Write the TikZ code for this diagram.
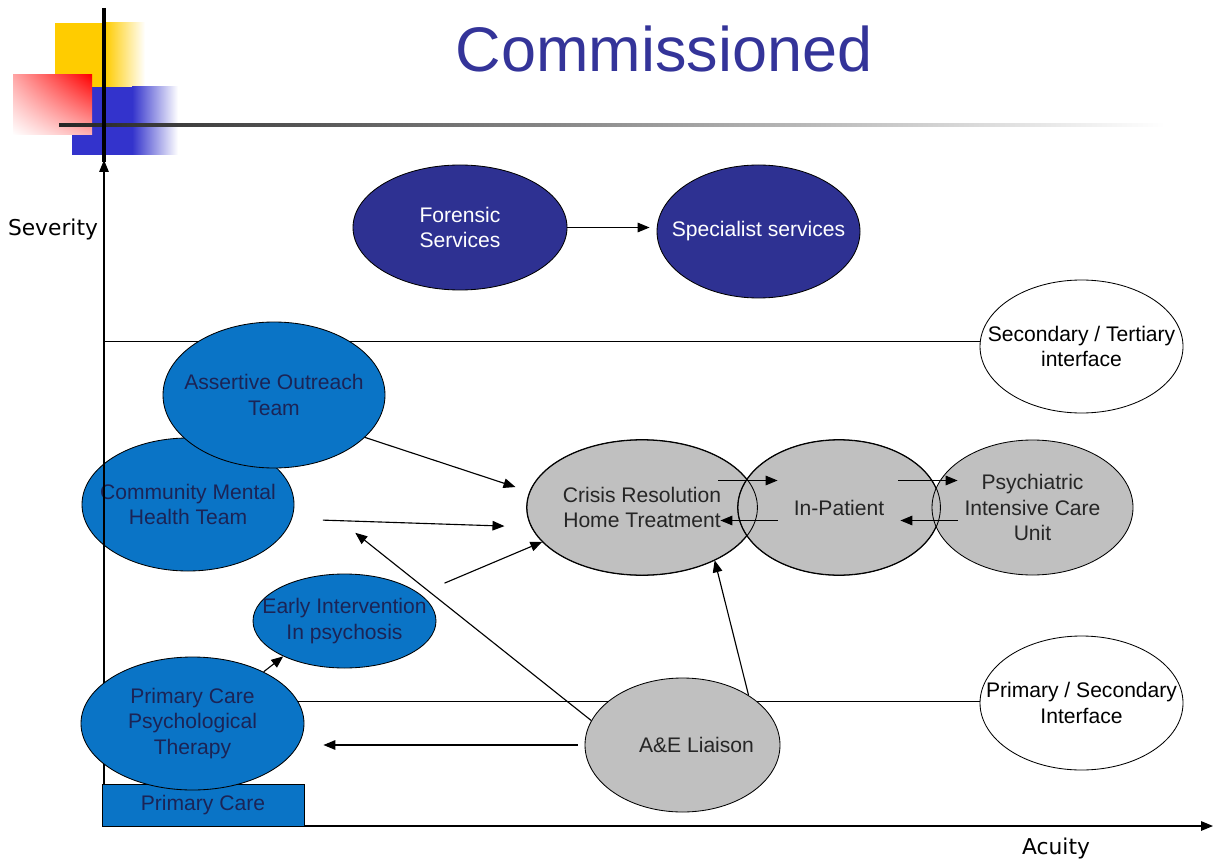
\documentclass[tikz,border=0pt]{standalone}
\usepackage{fontspec}
\setmainfont{Liberation Sans}
\newfontfamily\axisfont{DejaVu Sans}
\definecolor{navy}{HTML}{2E3192}
\definecolor{titleblue}{HTML}{343499}
\definecolor{nhsblue}{HTML}{0A74C6}
\definecolor{inkblue}{HTML}{1B2456}
\definecolor{silver}{HTML}{C0C0C0}
\definecolor{decoyellow}{HTML}{FFCC00}
\definecolor{decoblue}{HTML}{3333CC}
\usetikzlibrary{shapes.geometric,arrows.meta,calc,shadings}

\begin{document}
\begin{tikzpicture}[x=0.25mm, y=-0.25mm, line width=0.8pt,
  >={Triangle[length=3mm,width=2.4mm]},
  every node/.style={font=\fontsize{15}{18.4}\selectfont, align=center},
  oval/.style 2 args={ellipse, draw, line width=0.6pt, inner sep=-12mm,
    minimum width=#1*0.25mm, minimum height=#2*0.25mm},
  forensic/.style={fill=navy, text=white},
  team/.style={fill=nhsblue, text=inkblue},
  acute/.style={fill=silver, text=black!85},
  iface/.style={fill=white, text=black},
  axislabel/.style={font=\axisfont\fontsize{15.5}{18}\selectfont}]
\useasboundingbox (0,0) rectangle (1216,861);
% logo squares
\fill[decoyellow] (55,23) rectangle (105,88);
\shade[left color=decoyellow, right color=white] (105,23) rectangle (145,88);
\fill[decoblue] (72,87) rectangle (132,155);
\shade[left color=decoblue, right color=white] (132,87) rectangle (178,155);
\shade[upper left=red!35, upper right=red, lower left=white, lower right=red!30] (13,75) rectangle (92,135);
\shade[left color=black!85, right color=white] (59,123.5) rectangle (1165,127);
\draw[line width=2.2pt] (104,8) -- (104,162);
% title and axis labels
\node[font=\fontsize{44.8}{50}\selectfont, text=titleblue] (title) at (664,49) {Commissioned};
\node[axislabel] (sev) at (53,229) {Severity};
\node[axislabel] (acu) at (1056,848) {Acuity};
%% top services
\node[oval={214}{125}, forensic] (fs) at (460,227.5) {Forensic\\Services};
\node[oval={203}{133}, forensic] (ss) at (758.5,231.5) {Specialist services};
%% interfaces
\coordinate (o) at (104,826);
\node[oval={203}{133}, iface] (sti) at (1081.5,346.5) {Secondary / Tertiary\\interface};
\node[oval={203}{134}, iface] (psi) at (1081.5,703) {Primary / Secondary\\Interface};
\draw (o |- sti.177) -- (sti.177);
\draw (o |- psi.179) -- (psi.179);
%% community teams
\node[oval={212}{133}, team] (cmht) at (188,504.5) {Community Mental\\Health Team};
\node[oval={222}{146}, team] (aot) at (274,395) {Assertive Outreach\\Team};
% axes
\coordinate (ytop) at (104,160);
\coordinate (xend) at (1213,826);
\draw[->] (o) -- (ytop);
\draw[->] (o) -- (xend);
%% primary care
\node[draw, line width=0.6pt, fill=nhsblue, text=inkblue, inner sep=0pt,
  minimum width=50.5mm, minimum height=10.5mm] (pc) at (203,805) {Primary Care};
\node[oval={223}{133}, team] (pcpt) at (192.5,723.5) {Primary Care\\Psychological\\Therapy};
\node[oval={183}{94}, team] (eip) at (344.5,621) {Early Intervention\\In psychosis};
%% acute services
\node[oval={230}{135}, acute] (crht) at (642,507.5) {Crisis Resolution\\Home Treatment};
\node[oval={202}{135}, acute] (ip) at (839,507.5) {In-Patient};
\node[oval={201}{135}, acute] (picu) at (1032.5,507.5) {Psychiatric\\Intensive Care\\Unit};
\foreach \s in {crht,ip}
  \draw[line width=0.6pt] let \p1=($(\s.east)-(\s.center)$), \p2=($(\s.north)-(\s.center)$)
    in (\s.center) ellipse ({\x1} and {\y2});
\node[oval={195}{134}, acute] (ae) at (682.5,745) {\hspace*{7mm}A\&E Liaison};
% arrows
\draw[->, shorten >=1.75mm] (fs.east) -- (fs.east -| ss.west);
\draw[->, shorten >=3.75mm] (aot.-25) -- (crht.172);
\draw[->, shorten <=7.75mm, shorten >=6.75mm] (cmht.-8) -- (crht.-170);
\draw[->, shorten >=22.5mm] (ae.165) -- (cmht.16);
\draw[->, shorten <=6.75mm] (eip.20) -- (crht.-161);
\draw[->] (ae.37) -- (crht.-36);
\draw[->, shorten <=1.75mm, shorten >=4.75mm] (ae.west) -- (ae.west -| pcpt.east);
\draw[->] (pcpt.36) -- (eip.-150);
\draw[->] ([shift={(-39,-27)}]crht.east) -- ([shift={(40,-27)}]ip.west);
\draw[->] ([shift={(40,13)}]ip.west) -- ([shift={(-37,13)}]crht.east);
\draw[->] ([shift={(-42,-27)}]ip.east) -- ([shift={(26,-27)}]picu.west);
\draw[->] ([shift={(26,13)}]picu.west) -- ([shift={(-40,13)}]ip.east);
\end{tikzpicture}
\end{document}
